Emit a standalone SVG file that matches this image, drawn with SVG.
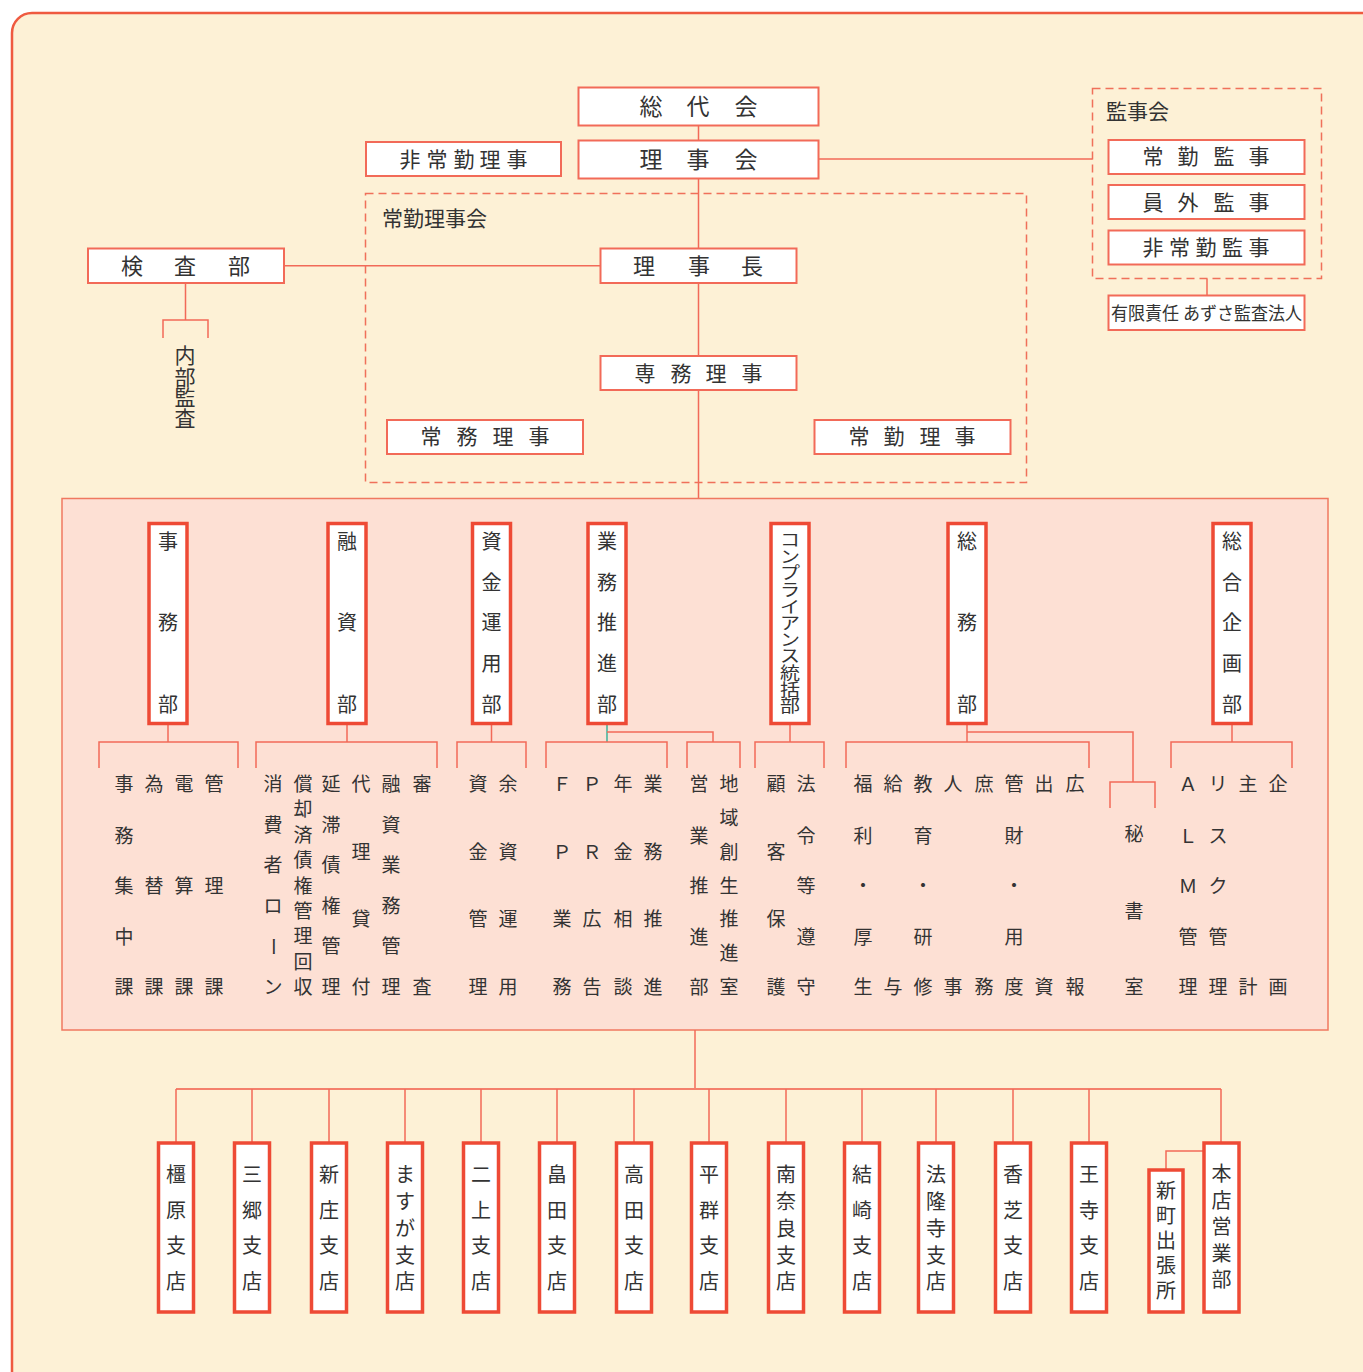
<svg xmlns="http://www.w3.org/2000/svg" width="1363" height="1372" viewBox="0 0 1363 1372">
<style>
.bx{fill:#fff;stroke:#f26a58;stroke-width:2}
.db{fill:#fff;stroke:#ee4a35;stroke-width:3.5}
.ln{fill:none;stroke:#f26a58;stroke-width:1.5}
.dash{fill:none;stroke:#f0705a;stroke-width:1.5;stroke-dasharray:8 5}
.t{font-family:"Noto Sans CJK JP","Noto Sans CJK SC",sans-serif;fill:#333;text-anchor:middle}
.s{text-anchor:start}
.f23{font-size:23px}.f22{font-size:22px}.f21{font-size:21px}.f20{font-size:20px}.p{font-size:19px}
</style>
<rect x="12" y="13" width="1380" height="1390" rx="20" fill="#fdf1d6" stroke="#ef5a40" stroke-width="2.5"/>

<g id="connectors">
<path class="ln" d="M698.5 125.5V140.5M698.5 178.5V248.5M698.5 283V356M698.5 390V498M818.5 159H1092.5M284 265.7H600.5M185.5 283V320M163 338V320H208V338M1207 278.7V295.5"/>
</g>

<g id="jokin-rijikai"><rect class="dash" x="365.5" y="193.5" width="661" height="289"/><text class="t s f21" x="382" y="225.6">常勤理事会</text></g>
<g id="kanjikai"><rect class="dash" x="1092.5" y="88.5" width="229" height="190"/><text class="t s f21" x="1106" y="118.6">監事会</text></g>

<g id="soudaikai"><rect class="bx" x="578.5" y="87.5" width="240" height="38"/><text class="t f23" x="651 698 746" y="114.5 114.5 114.5">総代会</text></g>
<g id="rijikai"><rect class="bx" x="578.5" y="140.5" width="240" height="38"/><text class="t f23" x="651 698 746" y="167.5 167.5 167.5">理事会</text></g>
<g id="hijokin-riji"><rect class="bx" x="366" y="142" width="195" height="34"/><text class="t f21" x="410 437 464 490 517" y="166.5 166.5 166.5 166.5 166.5">非常勤理事</text></g>
<g id="kensabu"><rect class="bx" x="88" y="248.5" width="196" height="34.5"/><text class="t f22" x="132 185 239" y="273.7 273.7 273.7">検査部</text></g>
<g id="naibu-kansa"><text class="t f21" x="185 185 185 185" y="362.6 384.6 404.6 425.6">内部監査</text></g>
<g id="rijicho"><rect class="bx" x="600.5" y="248.5" width="196" height="34.5"/><text class="t f22" x="644 699 752" y="273.7 273.7 273.7">理事長</text></g>
<g id="senmu-riji"><rect class="bx" x="600.5" y="356" width="196" height="34"/><text class="t f21" x="645 681 716 752" y="380.5 380.5 380.5 380.5">専務理事</text></g>
<g id="jomu-riji"><rect class="bx" x="387" y="420" width="196" height="34"/><text class="t f21" x="431 467 503 539" y="444.4 444.4 444.4 444.4">常務理事</text></g>
<g id="jokin-riji"><rect class="bx" x="814.5" y="420" width="196" height="34"/><text class="t f21" x="859 894 930 965" y="444.4 444.4 444.4 444.4">常勤理事</text></g>
<g id="jokin-kanji"><rect class="bx" x="1108.5" y="140" width="196" height="34"/><text class="t f21" x="1153 1188 1224 1259" y="163.7 163.7 163.7 163.7">常勤監事</text></g>
<g id="ingai-kanji"><rect class="bx" x="1108.5" y="185" width="196" height="34"/><text class="t f21" x="1153 1188 1224 1259" y="209.7 209.7 209.7 209.7">員外監事</text></g>
<g id="hijokin-kanji"><rect class="bx" x="1108.5" y="230.5" width="196" height="34"/><text class="t f21" x="1153 1179.5 1206 1232.5 1259" y="255 255 255 255 255">非常勤監事</text></g>
<g id="azusa"><rect class="bx" x="1108.5" y="295.5" width="196" height="34.5"/><text class="t s" style="font-size:18px" x="1111" y="319.5" textLength="191" lengthAdjust="spacingAndGlyphs">有限責任 あずさ監査法人</text></g>

<g id="panel"><rect x="62" y="498.5" width="1266" height="531.5" fill="#fde0d4" stroke="#f07860" stroke-width="1.5"/></g>

<g id="dept-connectors">
<path class="ln" d="M168 724V742M99 768V742H238V768"/>
<path class="ln" d="M347 724V742M256 768V742H437V768"/>
<path class="ln" d="M491.5 724V742M457 768V742H526V768"/>
<path fill="none" stroke="#3cb39a" stroke-width="1.5" d="M607 724V742"/>
<path class="ln" d="M546 768V742H667V768M607 732H713V742M687 768V742H740V768"/>
<path class="ln" d="M790 724V742M755 768V742H824V768"/>
<path class="ln" d="M967 724V742M846 768V742H1089V768M967 732H1133V782M1110 808V782H1155V808"/>
<path class="ln" d="M1232 724V742M1171 768V742H1292V768"/>
</g>

<g id="jimubu"><rect class="db" x="149" y="523.5" width="38" height="200"/><text class="t f20" x="168 168 168" y="549.4 630.4 712.4">事務部</text>
<text class="t p" x="124 124 124 124 124" y="791 843 893 944 994">事務集中課</text>
<text class="t p" x="154 154 154" y="791 893 994">為替課</text>
<text class="t p" x="184 184 184" y="791 893 994">電算課</text>
<text class="t p" x="214 214 214" y="791 893 994">管理課</text></g>

<g id="yushibu"><rect class="db" x="328" y="523.5" width="38" height="200"/><text class="t f20" x="347 347 347" y="549.4 630.4 712.4">融資部</text>
<text class="t p" x="273 273 273 273 275.3 273" y="791 831.6 872.2 912.8 936.9 994" rotate="0 0 0 0 90 0">消費者ローン</text>
<text class="t p" x="303 303 303 303 303 303 303 303 303" y="791 816.4 841.8 867.1 892.5 917.9 943.3 968.6 994">償却済債権管理回収</text>
<text class="t p" x="331 331 331 331 331 331" y="791 831.6 872.2 912.8 953.4 994">延滞債権管理</text>
<text class="t p" x="361 361 361 361" y="791 859 926 994">代理貸付</text>
<text class="t p" x="391 391 391 391 391 391" y="791 831.6 872.2 912.8 953.4 994">融資業務管理</text>
<text class="t p" x="422 422" y="791 994">審査</text></g>

<g id="shikin-unyobu"><rect class="db" x="472.5" y="523.5" width="38" height="200"/><text class="t f20" x="491.5 491.5 491.5 491.5 491.5" y="549.4 590.4 630.4 671.4 712.4">資金運用部</text>
<text class="t p" x="478 478 478 478" y="791 859 926 994">資金管理</text>
<text class="t p" x="508 508 508 508" y="791 859 926 994">余資運用</text></g>

<g id="gyomu-suishinbu"><rect class="db" x="588" y="523.5" width="38" height="200"/><text class="t f20" x="607 607 607 607 607" y="549.4 590.4 630.4 671.4 712.4">業務推進部</text>
<text class="t p" x="562 562 562 562" y="791 859 926 994">ＦＰ業務</text>
<text class="t p" x="592 592 592 592" y="791 859 926 994">ＰＲ広告</text>
<text class="t p" x="623 623 623 623" y="791 859 926 994">年金相談</text>
<text class="t p" x="653 653 653 653" y="791 859 926 994">業務推進</text>
<text class="t p" x="699 699 699 699 699" y="791 843 893 944 994">営業推進部</text>
<text class="t p" x="729 729 729 729 729 729 729" y="791 824.8 858.7 892.5 926.3 960.2 994">地域創生推進室</text></g>

<g id="compliance"><rect class="db" x="771" y="523.5" width="38" height="200"/>
<text class="t f20" transform="scale(1,0.83)" x="790 790 790 790 790 790 790 790 790 790 790" y="658 678 698 718 738 758 778 798 818 838 858">コンプライアンス統括部</text>
<text class="t p" x="776 776 776 776" y="791 859 926 994">顧客保護</text>
<text class="t p" x="806 806 806 806 806" y="791 843 893 944 994">法令等遵守</text></g>

<g id="somubu"><rect class="db" x="948" y="523.5" width="38" height="200"/><text class="t f20" x="967 967 967" y="549.4 630.4 712.4">総務部</text>
<text class="t p" x="863 863 863 863 863" y="791 843 893 944 994">福利・厚生</text>
<text class="t p" x="893 893" y="791 994">給与</text>
<text class="t p" x="923 923 923 923 923" y="791 843 893 944 994">教育・研修</text>
<text class="t p" x="953 953" y="791 994">人事</text>
<text class="t p" x="984 984" y="791 994">庶務</text>
<text class="t p" x="1014 1014 1014 1014 1014" y="791 843 893 944 994">管財・用度</text>
<text class="t p" x="1044 1044" y="791 994">出資</text>
<text class="t p" x="1075 1075" y="791 994">広報</text>
<text class="t p" x="1134 1134 1134" y="841 917.5 994">秘書室</text></g>

<g id="sogo-kikakubu"><rect class="db" x="1213" y="523.5" width="38" height="200"/><text class="t f20" x="1232 1232 1232 1232 1232" y="549.4 590.4 630.4 671.4 712.4">総合企画部</text>
<text class="t p" x="1188 1188 1188 1188 1188" y="791 843 893 944 994">ＡＬＭ管理</text>
<text class="t p" x="1218 1218 1218 1218 1218" y="791 843 893 944 994">リスク管理</text>
<text class="t p" x="1248 1248" y="791 994">主計</text>
<text class="t p" x="1278 1278" y="791 994">企画</text></g>

<g id="branch-connectors">
<path class="ln" d="M695 1030V1089"/>
<path fill="none" stroke="#f4806c" stroke-width="2" d="M176 1089H1221"/>
<path class="ln" d="M176 1089V1143M252 1089V1143M329 1089V1143M405 1089V1143M481 1089V1143M557 1089V1143M634 1089V1143M709 1089V1143M786 1089V1143M862 1089V1143M936 1089V1143M1013 1089V1143M1089 1089V1143M1221 1089V1143M1204 1151H1166V1170"/>
</g>

<g id="kashihara"><rect class="db" x="158.5" y="1143" width="35" height="169"/><text class="t f20" x="176 176 176 176" y="1182.4 1218.4 1253.4 1289.4">橿原支店</text></g>
<g id="misato"><rect class="db" x="234.5" y="1143" width="35" height="169"/><text class="t f20" x="252 252 252 252" y="1182.4 1218.4 1253.4 1289.4">三郷支店</text></g>
<g id="shinjo"><rect class="db" x="311.5" y="1143" width="35" height="169"/><text class="t f20" x="329 329 329 329" y="1182.4 1218.4 1253.4 1289.4">新庄支店</text></g>
<g id="masuga"><rect class="db" x="387.5" y="1143" width="35" height="169"/><text class="t f20" x="405 405 405 405 405" y="1182.4 1209.2 1235.9 1262.7 1289.4">ますが支店</text></g>
<g id="nijo"><rect class="db" x="463.5" y="1143" width="35" height="169"/><text class="t f20" x="481 481 481 481" y="1182.4 1218.4 1253.4 1289.4">二上支店</text></g>
<g id="hatakeda"><rect class="db" x="539.5" y="1143" width="35" height="169"/><text class="t f20" x="557 557 557 557" y="1182.4 1218.4 1253.4 1289.4">畠田支店</text></g>
<g id="takada"><rect class="db" x="616.5" y="1143" width="35" height="169"/><text class="t f20" x="634 634 634 634" y="1182.4 1218.4 1253.4 1289.4">高田支店</text></g>
<g id="heguri"><rect class="db" x="691.5" y="1143" width="35" height="169"/><text class="t f20" x="709 709 709 709" y="1182.4 1218.4 1253.4 1289.4">平群支店</text></g>
<g id="minaminara"><rect class="db" x="768.5" y="1143" width="35" height="169"/><text class="t f20" x="786 786 786 786 786" y="1182.4 1209.2 1235.9 1262.7 1289.4">南奈良支店</text></g>
<g id="yuzaki"><rect class="db" x="844.5" y="1143" width="35" height="169"/><text class="t f20" x="862 862 862 862" y="1182.4 1218.4 1253.4 1289.4">結崎支店</text></g>
<g id="horyuji"><rect class="db" x="918.5" y="1143" width="35" height="169"/><text class="t f20" x="936 936 936 936 936" y="1182.4 1209.2 1235.9 1262.7 1289.4">法隆寺支店</text></g>
<g id="kashiba"><rect class="db" x="995.5" y="1143" width="35" height="169"/><text class="t f20" x="1013 1013 1013 1013" y="1182.4 1218.4 1253.4 1289.4">香芝支店</text></g>
<g id="oji"><rect class="db" x="1071.5" y="1143" width="35" height="169"/><text class="t f20" x="1089 1089 1089 1089" y="1182.4 1218.4 1253.4 1289.4">王寺支店</text></g>
<g id="shinmachi"><rect class="db" x="1149" y="1170" width="34" height="142"/><text class="t f20" x="1166 1166 1166 1166 1166" y="1198.4 1223.4 1248.4 1273.4 1298.4">新町出張所</text></g>
<g id="honten"><rect class="db" x="1204" y="1143" width="35" height="169"/><text class="t f20" x="1221.5 1221.5 1221.5 1221.5 1221.5" y="1181.4 1207.9 1234.4 1260.9 1287.4">本店営業部</text></g>
</svg>
